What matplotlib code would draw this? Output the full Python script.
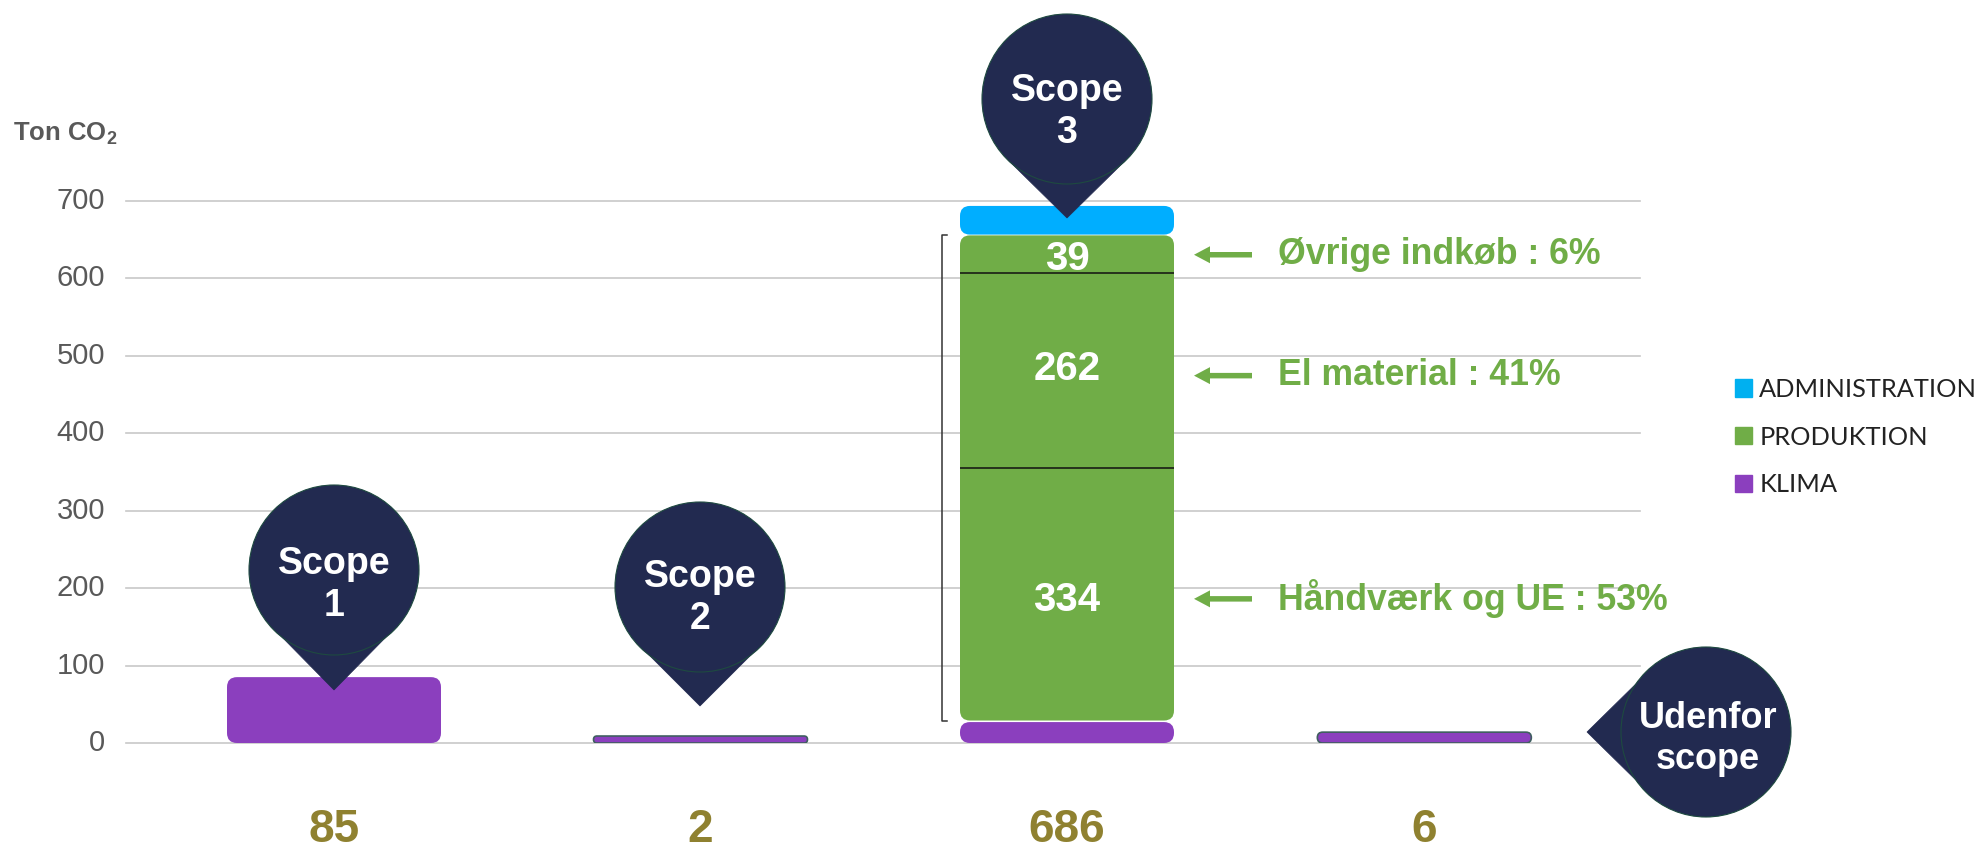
# -*- coding: utf-8 -*-
import matplotlib
matplotlib.use('Agg')
import matplotlib.pyplot as plt
from matplotlib.patches import FancyBboxPatch, Circle, Polygon, Patch
from matplotlib.transforms import ScaledTranslation

plt.rcParams['font.family'] = ['Liberation Sans', 'DejaVu Sans']
plt.rcParams['mathtext.fontset'] = 'custom'
plt.rcParams['mathtext.bf'] = 'Liberation Sans:bold'

## data
totals = ['85', '2', '686', '6']
klima = [85, 9, 27, 14]
produktion = [0, 0, 626, 0]
administration = [0, 0, 37, 0]
gaps = [0, 0, 2, 0]
dividers = [355, 606]          # lines inside the green bar
segment_labels = ['334', '262', '39']
segment_mid = [185, 482, 625]
notes = ['Håndværk og UE : 53%', 'El material : 41%', 'Øvrige indkøb : 6%']
note_y = [186, 474, 630]
yticks = [0, 100, 200, 300, 400, 500, 600, 700]

navy = '#222A50'
green = '#70AD47'
purple = '#8B3FBE'
blue = '#00AEFF'
olive = '#8F8130'

W, H = 1979, 846
fig = plt.figure(figsize=(W / 100, H / 100), dpi=100)
L, R, T, B = 126, 1640, 200.5, 743
ax = fig.add_axes([L / W, 1 - B / H, (R - L) / W, (B - T) / H])
pitch = 366.5
x0 = 334.
xpos = [0, 1, 2, 2.975]        # last bar sits a little closer in the original
ax.set_xlim((L - x0) / pitch, (R - x0) / pitch)
ax.set_ylim(0, 700)
ppx = (B - T) / 700.           # pixels per y unit
aspect = pitch / ppx
bw = 214 / pitch


def rbar(x, bottom, top, color, rad=10, **kw):
    h = (top - bottom) * ppx
    r = min(rad, h / 2.) / pitch
    if 'lw' not in kw:
        kw['lw'] = 0
    p = FancyBboxPatch((x - bw / 2, bottom), bw, top - bottom,
                       boxstyle='round,pad=0,rounding_size=%f' % r,
                       mutation_aspect=aspect, fc=color, zorder=3, **kw)
    ax.add_patch(p)


for i, x in enumerate(xpos):
    b = 0
    if klima[i]:
        if klima[i] < 20:
            rbar(x, 0, klima[i], purple, ec='#3F5F60', lw=1.2)
        else:
            rbar(x, 0, klima[i], purple)
        b = klima[i] + gaps[i]
    if produktion[i]:
        rbar(x, b, b + produktion[i], green)
        b = b + produktion[i] + gaps[i] / 2.
    if administration[i]:
        rbar(x, b, b + administration[i], blue)

ax.hlines(dividers, 2 - bw / 2, 2 + bw / 2, color='#111111', lw=1.1, zorder=4)
for lab, m in zip(segment_labels, segment_mid):
    ax.text(2, m, lab, color='white', fontsize=29, fontweight='bold',
            ha='center', va='center', zorder=5)

ax.set_yticks(yticks)
ax.yaxis.grid(True, color='#C8C8C8', lw=1.2, clip_on=False)
ax.set_axisbelow(True)
for s in ax.spines.values():
    s.set_visible(False)
ax.tick_params(axis='y', length=0, pad=15, labelsize=21, labelcolor='#595959')
up = ScaledTranslation(0, 3 / 100., fig.dpi_scale_trans)
for t in ax.get_yticklabels():
    t.set_transform(t.get_transform() + up)
ax.set_xticks(xpos)
ax.set_xticklabels(totals, fontsize=33, fontweight='bold', color=olive)
ax.tick_params(axis='x', length=0, pad=47)

ax.legend(handles=[Patch(color='#00B0F0', label='ADMINISTRATION'),
                   Patch(color=green, label='PRODUKTION'),
                   Patch(color=purple, label='KLIMA')],
          loc='upper left', bbox_to_anchor=(1735. / W, 1 - 378. / H),
          bbox_transform=fig.transFigure, frameon=False,
          prop={'family': 'Lato', 'size': 18.3},
          handlelength=0.68, handleheight=0.68, handletextpad=0.28,
          labelspacing=0.97, borderpad=0, borderaxespad=0, labelcolor='#222222')

## annotations in picture pixels
ov = fig.add_axes([0, 0, 1, 1], zorder=5)
ov.set_xlim(0, W)
ov.set_ylim(H, 0)
ov.axis('off')
ov.patch.set_alpha(0)


def pin(cx, cy, tip, base, label, tx, ty, size=27):
    ov.add_patch(Polygon([base[0], base[1], tip], closed=True, fc=navy, ec=navy, lw=0.5))
    ov.add_patch(Circle((cx, cy), 85, fc=navy, ec='#1E4A40', lw=0.8))
    ov.text(tx, ty, label, color='white', fontsize=size, fontweight='bold',
            ha='center', va='center', linespacing=1.24)


pin(334, 570, (334, 690), ((276, 631), (392, 631)), 'Scope\n1', 334, 585)
pin(700, 587, (700, 706), ((642, 648), (758, 648)), 'Scope\n2', 700, 598)
pin(1067, 99, (1067, 218), ((1008, 160), (1126, 160)), 'Scope\n3', 1067, 112)
pin(1706, 732, (1587, 732), ((1647, 673), (1647, 791)), 'Udenfor\nscope', 1708, 739, size=26)

## arrows and green notes
for n, v in zip(notes, note_y):
    y = B - v * ppx
    ov.arrow(1252, y, -58, 0, width=5.5, head_width=17, head_length=16,
             length_includes_head=True, fc=green, ec='none')
    ov.text(1278, y, n, color=green, fontsize=25.7, fontweight='bold', ha='left', va='center')

## bracket next to the green bar
ov.plot([947, 942, 942, 947], [235, 235, 721, 721], color='#333333', lw=1.1)

ov.text(13, 134, r'Ton CO$_{\mathbf{2}}$', color='#595959', fontsize=18.5,
        fontweight='bold', ha='left', va='center')

fig.savefig('out.png', dpi=100)
